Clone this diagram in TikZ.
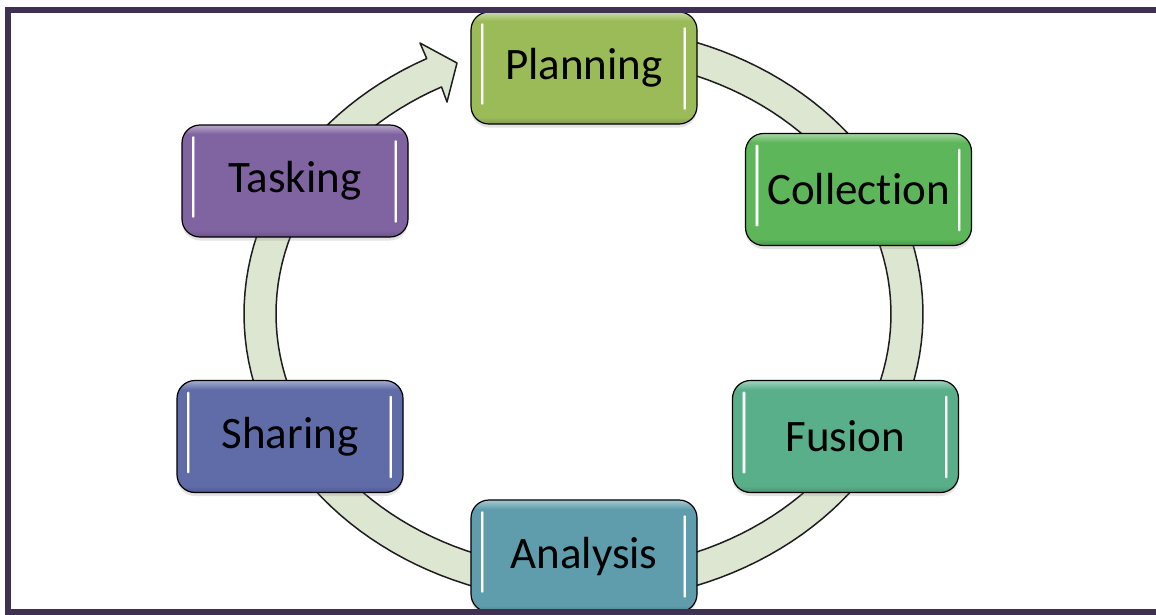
\documentclass[tikz,border=0pt]{standalone}
\usepackage{fontspec}
\setmainfont{Carlito}[Ligatures=NoCommon]
\usetikzlibrary{shadows}

\definecolor{framecol}{HTML}{3F3151}
\definecolor{ringfill}{HTML}{DDE6D0}
\definecolor{ringline}{HTML}{1E1E1E}
\definecolor{cPlan}{HTML}{9BBB59}
\definecolor{cColl}{HTML}{5DB65A}
\definecolor{cFus}{HTML}{5AAF8B}
\definecolor{cAna}{HTML}{5F9DAD}
\definecolor{cShare}{HTML}{5F6CA8}
\definecolor{cTask}{HTML}{8064A2}
\colorlet{boxcol}{cPlan}

% glossy fill: lighter rim on top, slightly darker rim at the bottom
\pgfdeclareverticalshading[boxcol]{glossy}{100bp}{%
  color(0bp)=(boxcol!82!black); color(25bp)=(boxcol!82!black);
  color(28bp)=(boxcol); color(71bp)=(boxcol);
  color(75bp)=(boxcol!55!white); color(100bp)=(boxcol!55!white)}

\tikzset{
  stagebox/.style={
    /utils/exec={\colorlet{boxcol}{#1}},
    shading=glossy, draw=black, line width=1.2pt,
    rounded corners=18pt, minimum width=226pt, minimum height=112pt,
    inner sep=0pt, text=black,
    font=\fontsize{45}{52}\selectfont,
    drop shadow={opacity=0.22, shadow xshift=0pt, shadow yshift=-3.5pt}},
  ring/.style={fill=ringfill, draw=ringline, line width=1.5pt, line join=round},
  frame/.style={draw=framecol, line width=6pt},
  glow/.style={#1!30!white, line width=3.2pt, line cap=round, opacity=0.6},
  streak/.style={white, line width=2pt, line cap=round},
}

% two bright vertical streaks inside a box
\newcommand{\glossmark}[2]{%
  \draw[glow=#2]
    ([xshift=12pt,yshift=-13pt]#1.north west) -- ([xshift=12pt,yshift=21pt]#1.south west);
  \draw[streak]
    ([xshift=12pt,yshift=-13pt]#1.north west) -- ([xshift=12pt,yshift=21pt]#1.south west);
  \draw[glow=#2]
    ([xshift=-13pt,yshift=-17pt]#1.north east) -- ([xshift=-13pt,yshift=16pt]#1.south east);
  \draw[streak]
    ([xshift=-13pt,yshift=-17pt]#1.north east) -- ([xshift=-13pt,yshift=16pt]#1.south east);
}

\begin{document}
\begin{tikzpicture}[x=1pt, y=-1pt]
  \useasboundingbox (0,0) rectangle (1156,614);
  \fill[white] (0,0) rectangle (1156,614);

  % circular arrow running clockwise and ending at the first stage
  \draw[ring]
    plot[domain=80:-242.5, samples=140] ({583.5+339.5*cos(\x)}, {314-288*sin(\x)})
    -- (420,43) -- (457,63) -- (447,102)
    -- plot[domain=-242.5:80, samples=140] ({583.5+307.5*cos(\x)}, {314-256*sin(\x)})
    -- cycle;

  % stages of the cycle
  \node[stagebox=cPlan]  (plan)  at (584,68)      {Planning};
  \node[stagebox=cColl]  (coll)  at (858.5,189.5) {Collection};
  \node[stagebox=cFus]   (fus)   at (845.5,436.5) {Fusion};
  \node[stagebox=cAna]   (ana)   at (584,556)     {Analysis};
  \node[stagebox=cShare] (share) at (290,436.5)   {Sharing};
  \node[stagebox=cTask]  (task)  at (295,181)     {Tasking};

  \glossmark{plan}{cPlan}
  \glossmark{coll}{cColl}
  \glossmark{fus}{cFus}
  \glossmark{ana}{cAna}
  \glossmark{share}{cShare}
  \glossmark{task}{cTask}

  % outer frame
  \draw[frame] (8,10) rectangle (1170,612);
\end{tikzpicture}
\end{document}
